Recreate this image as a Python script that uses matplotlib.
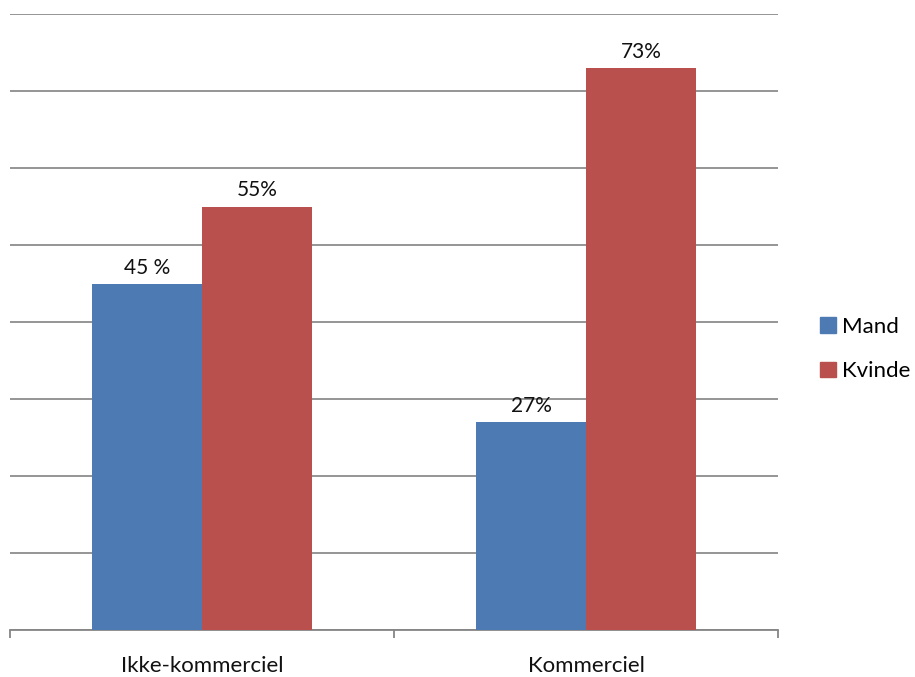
import matplotlib

matplotlib.use("Agg")
import matplotlib.pyplot as plt
import numpy as np
from matplotlib.patches import Patch

plt.rcParams["font.family"] = ["Lato", "DejaVu Sans"]

categories = ["Ikke-kommerciel", "Kommerciel"]
series = ["Mand", "Kvinde"]
mand = [45, 27]
kvinde = [55, 73]
mand_labels = ["45 %", "27%"]
kvinde_labels = ["55%", "73%"]
colors = ["#4E7AB4", "#B9504D"]

fig = plt.figure(figsize=(9.15, 6.77), dpi=100)
ax = fig.add_axes([10 / 915, 1 - 630 / 677, 768 / 915, 616 / 677])

x = np.arange(len(categories))
w = 1 / 3.5
b1 = ax.bar(x - w / 2, mand, w, color=colors[0], zorder=3)
b2 = ax.bar(x + w / 2, kvinde, w, color=colors[1], zorder=3)

for bars, labs in ((b1, mand_labels), (b2, kvinde_labels)):
    for r, lab in zip(bars, labs):
        ax.annotate(lab, (r.get_x() + r.get_width() / 2, r.get_height()),
                    xytext=(0, 6), textcoords="offset pixels",
                    ha="center", va="bottom", fontsize=15, color="#111111")

ax.set_xlim(-0.5, len(categories) - 0.5)
ax.set_ylim(0, 80)
ax.set_yticks(np.arange(0, 81, 10))
ax.yaxis.grid(True, color="#8c8c8c", lw=1.3)
ax.tick_params(axis="y", left=False, labelleft=False)
for s in ("left", "right", "top"):
    ax.spines[s].set_visible(False)
ax.spines["bottom"].set_color("#868686")
ax.spines["bottom"].set_linewidth(1.3)

ax.set_xticks(x)
ax.set_xticklabels(categories, fontsize=16, color="#111111")
ax.tick_params(axis="x", which="major", length=0, pad=18.5)
ax.set_xticks(np.arange(-0.5, len(categories), 1.0), minor=True)
ax.tick_params(axis="x", which="minor", length=6, width=1.3, color="#868686")

handles = [Patch(color=c, label=s) for c, s in zip(colors, series)]
ax.legend(handles=handles, loc="center left", bbox_to_anchor=(1.055, 0.456),
          frameon=False, fontsize=16, handlelength=0.7, handleheight=0.7,
          handletextpad=0.3, labelspacing=1.1, borderaxespad=0, borderpad=0)

fig.savefig("out.png", dpi=100)
